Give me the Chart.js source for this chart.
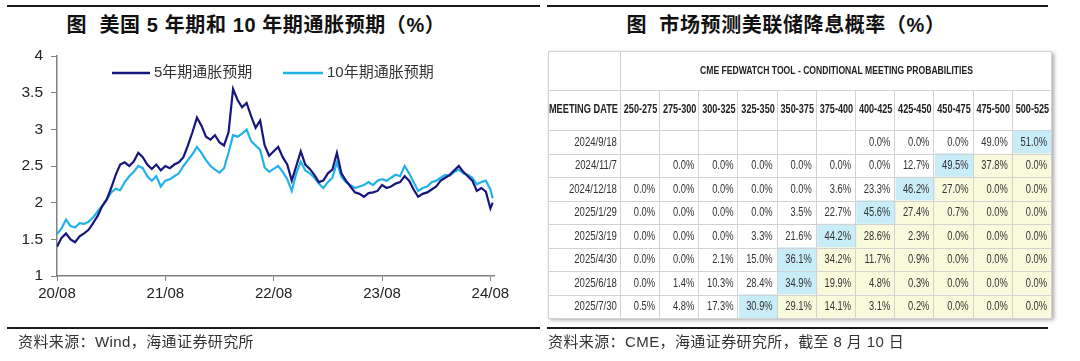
<!DOCTYPE html>
<html><head><meta charset="utf-8">
<script src="https://cdn.jsdelivr.net/npm/chart.js@4.4.0/dist/chart.umd.min.js"></script>
<style>
body{margin:0;width:1080px;height:361px;background:#fff;position:relative;overflow:hidden;font-family:'Liberation Sans','Noto Sans CJK SC',sans-serif;}
.rule{position:absolute;height:2px;background:#1a1a1a;}
.title{position:absolute;top:12px;font-family:'Liberation Sans','Noto Sans CJK SC',sans-serif;font-weight:700;font-size:20px;letter-spacing:0.6px;color:#111;white-space:nowrap;transform:translateX(-50%);line-height:26px}
.src{position:absolute;top:332px;font-size:15px;letter-spacing:0.4px;color:#333;white-space:nowrap;line-height:20px}
canvas{position:absolute;top:0}
</style></head>
<body>
<div class="rule" style="left:7px;top:5px;width:533px"></div>
<div class="rule" style="left:547px;top:5px;width:501px"></div>
<div class="title" style="left:256px">图&nbsp;&nbsp;美国 5 年期和 10 年期通胀预期（%）</div>
<div class="title" style="left:786px">图&nbsp;&nbsp;市场预测美联储降息概率（%）</div>
<canvas id="cL" width="540" height="361" style="left:0"></canvas>
<canvas id="cR" width="540" height="361" style="left:540px"></canvas>
<div class="rule" style="left:7px;top:327px;width:533px"></div>
<div class="rule" style="left:547px;top:327px;width:501px"></div>
<div class="src" style="left:18px">资料来源：Wind，海通证券研究所</div>
<div class="src" style="left:548px">资料来源：CME，海通证券研究所，截至 8 月 10 日</div>
<script>
// ---------- Left chart data ----------
const months = [0,0.5,1,1.5,2,2.5,3,3.5,4,4.5,5,5.5,6,6.5,7,7.5,8,8.5,9,9.5,10,10.5,11,11.5,12,12.5,13,13.5,14,14.5,15,15.5,16,16.5,17,17.5,18,18.5,19,19.5,20,20.5,21,21.5,22,22.5,23,23.5,24,24.5,25,25.5,26,26.5,27,27.5,28,28.5,29,29.5,30,30.5,31,31.5,32,32.5,33,33.5,34,34.5,35,35.5,36,36.5,37,37.5,38,38.5,39,39.5,40,40.5,41,41.5,42,42.5,43,43.5,44,44.5,45,45.5,46,46.5,47,47.5,48,48.25];
const be5y = [1.40,1.52,1.58,1.50,1.46,1.54,1.58,1.63,1.72,1.82,
1.95,2.04,2.20,2.38,2.52,2.55,2.50,2.56,2.68,2.62,
2.52,2.46,2.52,2.44,2.50,2.47,2.52,2.55,2.62,2.78,
2.96,3.16,3.05,2.90,2.86,2.92,2.82,2.78,2.96,3.55,
3.40,3.30,3.36,3.18,3.02,3.12,2.78,2.64,2.70,2.76,
2.62,2.52,2.30,2.50,2.70,2.52,2.46,2.38,2.28,2.30,
2.40,2.45,2.68,2.40,2.30,2.22,2.14,2.12,2.08,2.13,
2.14,2.16,2.24,2.20,2.22,2.26,2.28,2.36,2.30,2.18,
2.08,2.12,2.14,2.18,2.22,2.30,2.34,2.38,2.44,2.50,
2.42,2.36,2.30,2.16,2.20,2.15,1.92,2.00];
const be10y = [1.57,1.65,1.77,1.68,1.66,1.72,1.71,1.74,1.80,1.88,
1.96,2.04,2.14,2.19,2.17,2.28,2.36,2.42,2.50,2.47,
2.36,2.30,2.36,2.22,2.30,2.32,2.36,2.40,2.50,2.58,
2.66,2.76,2.68,2.58,2.50,2.45,2.41,2.47,2.68,2.92,
2.90,2.94,3.00,2.84,2.78,2.72,2.48,2.42,2.46,2.50,
2.42,2.32,2.16,2.40,2.56,2.44,2.40,2.34,2.26,2.20,
2.28,2.34,2.55,2.35,2.28,2.24,2.20,2.22,2.24,2.28,
2.24,2.30,2.32,2.30,2.34,2.38,2.36,2.50,2.40,2.28,
2.16,2.20,2.22,2.28,2.30,2.34,2.38,2.37,2.42,2.45,
2.40,2.38,2.34,2.25,2.28,2.30,2.18,2.06];
const seriesNames = ['5年期通胀预期','10年期通胀预期'];
const xTickMonths = [0,12,24,36,48];
const xTickLabels = ['20/08','21/08','22/08','23/08','24/08'];

// ---------- Right table data ----------
const meetingDates = ['2024/9/18','2024/11/7','2024/12/18','2025/1/29','2025/3/19','2025/4/30','2025/6/18','2025/7/30'];
const rateRanges = ['250-275','275-300','300-325','325-350','350-375','375-400','400-425','425-450','450-475','475-500','500-525'];
const p_2024_09_18 = [null,null,null,null,null,null,0.0,0.0,0.0,49.0,51.0];
const p_2024_11_07 = [null,0.0,0.0,0.0,0.0,0.0,0.0,12.7,49.5,37.8,0.0];
const p_2024_12_18 = [0.0,0.0,0.0,0.0,0.0,3.6,23.3,46.2,27.0,0.0,0.0];
const p_2025_01_29 = [0.0,0.0,0.0,0.0,3.5,22.7,45.6,27.4,0.7,0.0,0.0];
const p_2025_03_19 = [0.0,0.0,0.0,3.3,21.6,44.2,28.6,2.3,0.0,0.0,0.0];
const p_2025_04_30 = [0.0,0.0,2.1,15.0,36.1,34.2,11.7,0.9,0.0,0.0,0.0];
const p_2025_06_18 = [0.0,1.4,10.3,28.4,34.9,19.9,4.8,0.3,0.0,0.0,0.0];
const p_2025_07_30 = [0.5,4.8,17.3,30.9,29.1,14.1,3.1,0.2,0.0,0.0,0.0];
const tableTitle = 'CME FEDWATCH TOOL - CONDITIONAL MEETING PROBABILITIES';
const dateHeader = 'MEETING DATE';

// ================= Left line chart =================
const C5 = '#16167e', C10 = '#22b2e8';
const inlineLegend = {
  id:'inlineLegend',
  afterDraw(chart){
    const ctx = chart.ctx;
    const pos = [{x0:112,x1:150,tx:154},{x0:283,x1:323,tx:327}];
    const y = 73;
    ctx.save();
    chart.data.datasets.forEach((ds,i)=>{
      const p = pos[i];
      ctx.strokeStyle = ds.borderColor; ctx.lineWidth = 2.5;
      ctx.beginPath(); ctx.moveTo(p.x0,y); ctx.lineTo(p.x1,y); ctx.stroke();
      ctx.fillStyle = '#333'; ctx.font = "15px 'Liberation Sans','Noto Sans CJK SC'";
      ctx.textBaseline = 'middle'; ctx.textAlign = 'left';
      ctx.fillText(ds.label, p.tx, y);
    });
    ctx.restore();
  }
};
new Chart(document.getElementById('cL'), {
  type:'line',
  data:{datasets:[
    {label:seriesNames[0], data:months.map((m,i)=>({x:m,y:be5y[i]})), borderColor:C5, borderWidth:2.2, pointRadius:0, tension:0},
    {label:seriesNames[1], data:months.map((m,i)=>({x:m,y:be10y[i]})), borderColor:C10, borderWidth:2.2, pointRadius:0, tension:0}
  ]},
  options:{
    responsive:false, animation:false,
    layout:{padding:{top:56,right:46,left:0,bottom:0}},
    plugins:{legend:{display:false}, tooltip:{enabled:false}},
    scales:{
      x:{type:'linear', min:0, max:48.4,
        afterBuildTicks:s=>{ s.ticks = xTickMonths.map(v=>({value:v})); },
        ticks:{callback:(v,i)=>xTickLabels[i], font:{family:'Liberation Sans',size:15}, color:'#222', padding:4, maxRotation:0, autoSkip:false},
        grid:{drawOnChartArea:false, drawTicks:true, tickLength:5, color:'#808080', lineWidth:1},
        border:{display:true, color:'#808080', width:1.5},
        afterFit:s=>{ s.height = 85; }
      },
      y:{min:1, max:4,
        ticks:{stepSize:0.5, callback:v=>String(v), font:{family:'Liberation Sans',size:15.5}, color:'#222', padding:8},
        grid:{drawOnChartArea:false, drawTicks:true, tickLength:6, color:'#808080', lineWidth:1},
        border:{display:true, color:'#808080', width:1.5},
        afterFit:s=>{ s.width = 57; }
      }
    }
  },
  plugins:[inlineLegend]
});

// ================= Right table chart =================
const rows = [p_2024_09_18,p_2024_11_07,p_2024_12_18,p_2025_01_29,p_2025_03_19,p_2025_04_30,p_2025_06_18,p_2025_07_30];
const DATE_COL = 1.86;       // width of the date column in rate-column units
const HEAD1 = 39, HEAD2 = 40; // header row heights (px)
const BLUE = '#c9ecf9', YELLOW = '#f9f9dc', WHITE = '#ffffff', LINE = '#d2d2d2';
function maxIdx(row){ let mi=-1; row.forEach((v,i)=>{ if(v!==null && (mi<0 || v>row[mi])) mi=i; }); return mi; }
function cellColor(r,c){ const mi = maxIdx(rows[r]); if(c===mi) return BLUE; if(c>mi) return YELLOW; return WHITE; }

const datasets = [{label:dateHeader, data:meetingDates.map(()=>DATE_COL), backgroundColor:WHITE}];
rateRanges.forEach((rr,c)=>{
  datasets.push({label:rr, data:meetingDates.map(()=>1), backgroundColor:meetingDates.map((d,r)=>cellColor(r,c))});
});
function narrow(ctx, txt, x, y, align, font, color, sx){
  ctx.save(); ctx.font = font; ctx.fillStyle = color; ctx.textBaseline = 'middle'; ctx.textAlign = align;
  ctx.translate(x,y); ctx.scale(sx||0.8,1); ctx.fillText(txt,0,0); ctx.restore();
}
const tablePlugin = {
  id:'tableDeco',
  beforeDatasetsDraw(chart){
    const ctx = chart.ctx, a = chart.chartArea, xs = chart.scales.x;
    const L = xs.getPixelForValue(0), R = xs.getPixelForValue(DATE_COL+rateRanges.length);
    const T = a.top - HEAD1 - HEAD2;
    ctx.save();
    ctx.shadowColor = 'rgba(0,0,0,0.35)'; ctx.shadowBlur = 4; ctx.shadowOffsetX = 2; ctx.shadowOffsetY = 2;
    ctx.fillStyle = '#fff'; ctx.fillRect(L, T, R-L, a.bottom-T);
    ctx.restore();
  },
  afterDatasetsDraw(chart){
    const ctx = chart.ctx, a = chart.chartArea, xs = chart.scales.x, ys = chart.scales.y;
    const nC = rateRanges.length;
    const bx = [xs.getPixelForValue(0)];
    for(let k=0;k<=nC;k++) bx.push(xs.getPixelForValue(DATE_COL+k));
    const T = a.top - HEAD1 - HEAD2, H1b = T + HEAD1;
    const rh = (a.bottom - a.top)/meetingDates.length;
    ctx.save();
    ctx.strokeStyle = LINE; ctx.lineWidth = 1;
    const hl = (x0,x1,y)=>{ ctx.beginPath(); ctx.moveTo(x0,Math.round(y)+0.5); ctx.lineTo(x1,Math.round(y)+0.5); ctx.stroke(); };
    const vl = (x,y0,y1)=>{ ctx.beginPath(); ctx.moveTo(Math.round(x)-0.5,y0); ctx.lineTo(Math.round(x)-0.5,y1); ctx.stroke(); };
    hl(bx[0], bx[bx.length-1], T);
    hl(bx[0], bx[bx.length-1], H1b);
    hl(bx[0], bx[bx.length-1], a.top);
    meetingDates.forEach((d,r)=>{ hl(bx[0], bx[bx.length-1], ys.getPixelForValue(r)+rh/2); });
    bx.forEach((x,i)=>{
      const full = (i===0 || i===1 || i===bx.length-1);
      vl(i===0? x+1 : x, full ? T : H1b, a.bottom);
    });
    ctx.restore();
    // headers
    const fB = "bold 11px 'Liberation Sans'", fB2 = "bold 12px 'Liberation Sans'", fN = "12.3px 'Liberation Sans'";
    narrow(ctx, tableTitle, (bx[1]+bx[bx.length-1])/2, T+HEAD1/2+0.5, 'center', fB, '#222', 0.78);
    narrow(ctx, dateHeader, (bx[0]+bx[1])/2-1, H1b+HEAD2/2, 'center', fB2, '#222', 0.77);
    rateRanges.forEach((rr,c)=>{ narrow(ctx, rr, (bx[c+1]+bx[c+2])/2, H1b+HEAD2/2, 'center', fB2, '#222', 0.76); });
    // cells
    chart.data.datasets.forEach((ds,di)=>{
      const meta = chart.getDatasetMeta(di);
      meta.data.forEach((el,r)=>{
        if(di===0){ narrow(ctx, meetingDates[r], el.x-4, el.y+0.5, 'right', fN, '#333', 0.78); }
        else { const v = rows[r][di-1]; if(v!==null) narrow(ctx, v.toFixed(1)+'%', el.x-5, el.y+0.5, 'right', fN, '#333', 0.76); }
      });
    });
  }
};
new Chart(document.getElementById('cR'), {
  type:'bar',
  data:{labels:meetingDates, datasets:datasets},
  options:{
    responsive:false, animation:false, indexAxis:'y',
    layout:{padding:{left:8,right:28,top:130,bottom:43}},
    datasets:{bar:{barPercentage:1, categoryPercentage:1, borderWidth:0}},
    plugins:{legend:{display:false}, tooltip:{enabled:false}},
    scales:{
      x:{type:'linear', stacked:true, min:0, max:DATE_COL+rateRanges.length, display:false},
      y:{type:'category', stacked:true, display:false}
    }
  },
  plugins:[tablePlugin]
});
</script>
</body></html>
